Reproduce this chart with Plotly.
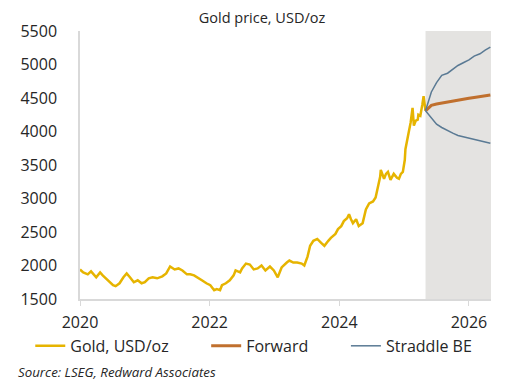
import plotly.graph_objects as go

# Gold price, USD/oz (x in decimal years as drawn on the chart axis)
gold_x = [2020.00, 2020.05, 2020.12, 2020.17, 2020.25, 2020.31, 2020.35, 2020.43, 2020.51, 2020.55,
          2020.61, 2020.67, 2020.72, 2020.77, 2020.83, 2020.89, 2020.95, 2021.00, 2021.06, 2021.12,
          2021.19, 2021.27, 2021.33, 2021.39, 2021.46, 2021.52, 2021.58, 2021.65, 2021.70, 2021.76,
          2021.82, 2021.88, 2021.95, 2022.01, 2022.07, 2022.11, 2022.16, 2022.19, 2022.25, 2022.31,
          2022.37, 2022.40, 2022.47, 2022.50, 2022.56, 2022.62, 2022.68, 2022.74, 2022.80, 2022.86,
          2022.93, 2022.99, 2023.05, 2023.11, 2023.19, 2023.23, 2023.29, 2023.35, 2023.42, 2023.46,
          2023.51, 2023.55, 2023.60, 2023.66, 2023.72, 2023.77, 2023.83, 2023.87, 2023.94, 2023.98,
          2024.03, 2024.07, 2024.12, 2024.15, 2024.18, 2024.21, 2024.26, 2024.30, 2024.36, 2024.41,
          2024.46, 2024.52, 2024.56, 2024.59, 2024.63, 2024.64, 2024.69, 2024.72, 2024.75, 2024.79,
          2024.84, 2024.89, 2024.92, 2024.95, 2024.98, 2025.01, 2025.02, 2025.07, 2025.10, 2025.13,
          2025.15, 2025.18, 2025.21, 2025.22, 2025.25, 2025.28, 2025.30, 2025.33]
gold_y = [1941, 1897, 1868, 1912, 1824, 1897, 1853, 1779, 1706, 1691,
          1735, 1824, 1882, 1824, 1750, 1779, 1735, 1750, 1809, 1824,
          1809, 1838, 1882, 1985, 1941, 1956, 1926, 1868, 1868, 1853,
          1809, 1779, 1735, 1706, 1632, 1647, 1632, 1706, 1735, 1779,
          1853, 1926, 1897, 1956, 2029, 2015, 1941, 1956, 2000, 1926,
          1985, 1926, 1824, 1971, 2044, 2074, 2044, 2044, 2029, 2000,
          2132, 2294, 2368, 2397, 2338, 2294, 2368, 2412, 2471, 2544,
          2588, 2662, 2706, 2765, 2691, 2632, 2691, 2588, 2632, 2838,
          2926, 2956, 3015, 3132, 3324, 3426, 3294, 3368, 3397, 3279,
          3368, 3309, 3294, 3368, 3397, 3574, 3735, 3985, 4132, 4353,
          4088, 4162, 4176, 4250, 4235, 4397, 4529, 4309]

# Forward curve and straddle break-evens (monthly)
fwd_x = [2025.33, 2025.42, 2025.50, 2025.58, 2025.67, 2025.75, 2025.83,
         2025.92, 2026.00, 2026.08, 2026.17, 2026.25, 2026.33]
fwd_y = [4309, 4390, 4410, 4425, 4440, 4455, 4468, 4482, 4495, 4507, 4520, 4533, 4544]
be_up = [4309, 4590, 4730, 4838, 4870, 4930, 4985, 5030, 5070, 5125, 5160, 5215, 5260]
be_dn = [4309, 4200, 4110, 4060, 4010, 3975, 3941, 3920, 3905, 3885, 3862, 3843, 3824]

tick_years = [2020, 2022, 2024, 2026]
y_ticks = [1500, 2000, 2500, 3000, 3500, 4000, 4500, 5000, 5500]
shade_start, shade_end = 2025.33, 2026.34

FONT = "Open Sans"
TXT = "#262626"

fig = go.Figure()
fig.add_trace(go.Scatter(x=gold_x, y=gold_y, mode="lines", name="Gold, USD/oz", legend="legend",
                         line=dict(color="#E6B400", width=2.5)))
fig.add_trace(go.Scatter(x=fwd_x, y=fwd_y, mode="lines", name="Forward", legend="legend2",
                         line=dict(color="#C0702E", width=3)))
fig.add_trace(go.Scatter(x=fwd_x, y=be_up, mode="lines", name="Straddle BE", legend="legend3",
                         legendgroup="be", line=dict(color="#5A7A94", width=1.5)))
fig.add_trace(go.Scatter(x=fwd_x, y=be_dn, mode="lines", name="Straddle BE", legend="legend3",
                         legendgroup="be", showlegend=False,
                         line=dict(color="#5A7A94", width=1.5)))

fig.add_shape(type="rect", xref="x", yref="y domain", x0=shade_start, x1=shade_end,
              y0=0, y1=1, fillcolor="#E4E3E1", line=dict(width=0), layer="below")

leg = dict(orientation="h", xanchor="left", y=-0.175, yanchor="middle",
           font=dict(size=16, color=TXT, family=FONT), bgcolor="rgba(0,0,0,0)")

fig.update_layout(
    width=500, height=381,
    margin=dict(l=69, r=17, t=19, b=90),
    paper_bgcolor="white", plot_bgcolor="white",
    font=dict(family=FONT, color=TXT, size=16),
    title=dict(text="Gold price, USD/oz", x=0.508, xanchor="center", y=0.973, yanchor="middle",
               font=dict(family=FONT, size=14.5, color=TXT)),
    xaxis=dict(range=[2020, 2026.34], tickvals=tick_years, ticktext=[str(t) for t in tick_years],
               showgrid=False, zeroline=False, showline=True, linecolor="#D9D9D9", linewidth=1.5,
               ticks="outside", ticklen=5, tickcolor="#D9D9D9", tickwidth=1,
               ticklabelstandoff=3, tickfont=dict(size=16, color=TXT)),
    yaxis=dict(range=[1500, 5500], tickvals=y_ticks, showgrid=False, zeroline=False,
               showline=True, linecolor="#D9D9D9", linewidth=1.5, ticks="",
               ticklabelstandoff=18, tickfont=dict(size=16, color=TXT)),
    legend=dict(leg, x=-0.121),
    legend2=dict(leg, x=0.307),
    legend3=dict(leg, x=0.647),
    showlegend=True,
)

fig.add_annotation(text="<i>Source: LSEG, Redward Associates</i>", xref="paper", yref="paper",
                   x=-0.155, xanchor="left", y=-0.272, yanchor="middle", showarrow=False,
                   font=dict(family=FONT, size=13.3, color=TXT))

fig.write_html("out.html")
